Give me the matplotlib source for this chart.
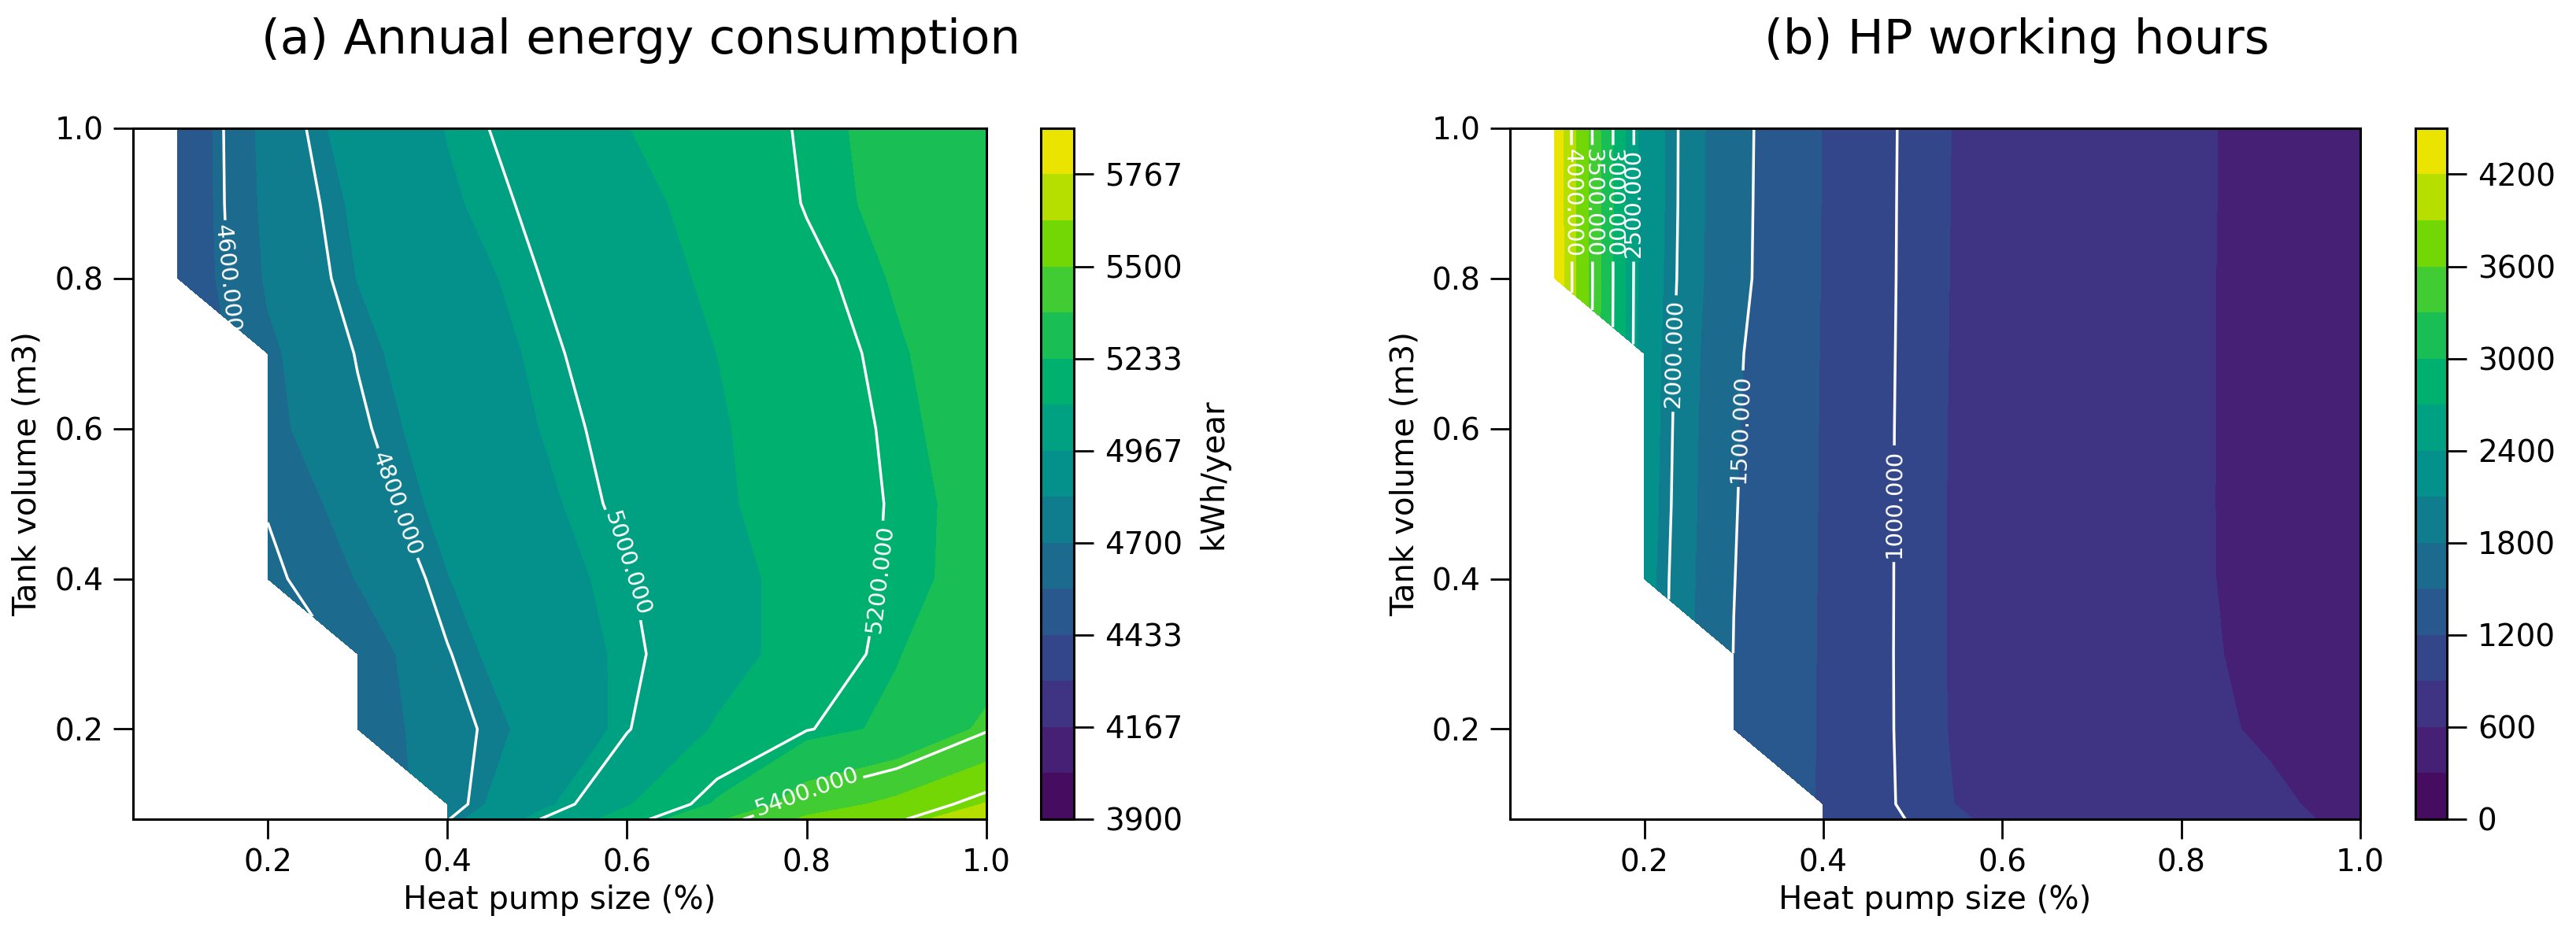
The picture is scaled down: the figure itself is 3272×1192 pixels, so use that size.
import numpy as np
import matplotlib
matplotlib.use('Agg')
import matplotlib.pyplot as plt
from matplotlib.colors import ListedColormap, rgb_to_hsv, hsv_to_rgb

nan = np.nan

# grid of the parametric study
heat_pump_size = [0.05, 0.1, 0.2, 0.3, 0.4, 0.5, 0.6, 0.7, 0.8, 0.9, 1.0]
tank_volume = [0.08, 0.1, 0.2, 0.3, 0.4, 0.5, 0.6, 0.7, 0.8, 0.9, 1.0]

# (a) annual energy consumption, kWh/year (one row per tank volume, bottom to top)
energy = [
    [nan, nan, nan, nan, 4795, 4995, 5150, 5350, 5520, 5585, 5720],
    [nan, nan, nan, nan, 4760, 4935, 5090, 5245, 5440, 5530, 5640],
    [nan, nan, nan, 4620, 4770, 4860, 4995, 5110, 5195, 5255, 5390],
    [nan, nan, nan, 4630, 4795, 4900, 4985, 5055, 5145, 5228, 5310],
    [nan, nan, 4570, 4705, 4830, 4925, 4995, 5065, 5135, 5215, 5258],
    [nan, nan, 4610, 4755, 4860, 4945, 5020, 5085, 5145, 5209, 5262],
    [nan, nan, 4670, 4785, 4880, 4965, 5030, 5090, 5150, 5215, 5275],
    [nan, nan, 4680, 4805, 4900, 4980, 5045, 5100, 5160, 5225, 5280],
    [nan, 4460, 4715, 4835, 4925, 4998, 5060, 5115, 5180, 5240, 5290],
    [nan, 4460, 4730, 4850, 4955, 5015, 5075, 5130, 5205, 5255, 5305],
    [nan, 4455, 4740, 4880, 4970, 5035, 5098, 5150, 5210, 5260, 5310],
]

# (b) heat pump working hours
hours = [
    [nan, nan, nan, nan, 1165, 985, 860, 760, 680, 640, 560],
    [nan, nan, nan, nan, 1170, 960, 830, 745, 660, 625, 550],
    [nan, nan, nan, 1490, 1175, 953, 815, 735, 640, 580, 510],
    [nan, nan, nan, 1495, 1175, 952, 815, 732, 636, 560, 495],
    [nan, nan, 2190, 1505, 1178, 952, 815, 732, 635, 545, 482],
    [nan, nan, 2210, 1515, 1180, 952, 815, 733, 635, 543, 480],
    [nan, nan, 2220, 1525, 1182, 953, 816, 734, 636, 542, 478],
    [nan, nan, 2230, 1540, 1185, 955, 817, 735, 637, 541, 476],
    [nan, 4420, 2240, 1580, 1188, 957, 818, 736, 638, 540, 474],
    [nan, 4410, 2250, 1585, 1190, 958, 820, 738, 640, 540, 472],
    [nan, 4400, 2250, 1590, 1190, 960, 820, 740, 640, 540, 470],
]

energy_levels = np.linspace(3900, 5900, 16)
energy_lines = [4600, 4800, 5000, 5200, 5400, 5600]
hours_levels = np.arange(0, 4501, 300)
hours_lines = [1000, 1500, 2000, 2500, 3000, 3500, 4000]

# the published figure has punchier greens than plain viridis,
# purples stay close to the original
t = np.linspace(0, 1, 256)
hsv = rgb_to_hsv(plt.get_cmap('viridis')(t)[:, :3])
hsv[:, 1] = np.clip(hsv[:, 1] * (1 + 0.5 * t), 0, 1)
cmap = ListedColormap(hsv_to_rgb(hsv))

X, Y = np.meshgrid(heat_pump_size, tank_volume)

fig = plt.figure(figsize=(32.73, 11.92), dpi=100)
ax1 = fig.add_axes([0.0516, 0.1267, 0.3312, 0.7366])
cax1 = fig.add_axes([0.4039, 0.1267, 0.0128, 0.7366])
ax2 = fig.add_axes([0.586, 0.1267, 0.33, 0.7366])
cax2 = fig.add_axes([0.9374, 0.1267, 0.0122, 0.7366])


def draw(ax, cax, Z, levels, lines, cticks):
    cf = ax.contourf(X, Y, np.array(Z), levels=levels, cmap=cmap)
    cs = ax.contour(X, Y, np.array(Z), levels=lines, colors='white', linewidths=2.5)
    ax.clabel(cs, fmt='%.3f', fontsize=21, colors='white', inline=True)
    ax.set_xticks([0.2, 0.4, 0.6, 0.8, 1.0])
    ax.set_yticks([0.2, 0.4, 0.6, 0.8, 1.0])
    ax.tick_params(labelsize=28, length=18, width=2)
    ax.tick_params(axis='x', pad=8)
    ax.tick_params(axis='y', pad=9)
    for s in ax.spines.values():
        s.set_linewidth(2.2)
    ax.set_xlabel('Heat pump size (%)', fontsize=29)
    ax.set_ylabel('Tank volume (m3)', fontsize=29)
    ax.xaxis.set_label_coords(0.5, -0.095)
    ax.yaxis.set_label_coords(-0.105, 0.5)
    cb = fig.colorbar(cf, cax=cax, ticks=cticks)
    cb.ax.set_yticklabels(['%.0f' % t for t in cticks])
    cb.ax.tick_params(labelsize=28, length=18, width=2, pad=10)
    cb.outline.set_linewidth(2.2)
    return cb


cb1 = draw(ax1, cax1, energy, energy_levels, energy_lines, energy_levels[::2])
cb1.set_label('kWh/year', fontsize=29, labelpad=14)
draw(ax2, cax2, hours, hours_levels, hours_lines, hours_levels[::2])

fig.text(0.2487, 0.943, '(a) Annual energy consumption', fontsize=44, ha='center', va='baseline')
fig.text(0.7828, 0.943, '(b) HP working hours', fontsize=44, ha='center', va='baseline')

fig.savefig('out.png', dpi=100)
